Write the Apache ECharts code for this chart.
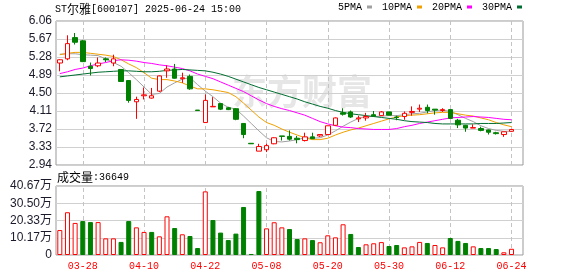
<!DOCTYPE html>
<html><head><meta charset="utf-8">
<script src="https://cdn.jsdelivr.net/npm/echarts@6/dist/echarts.min.js"></script>
<style>html,body{margin:0;padding:0;background:#fff}#c{width:578px;height:276px}</style>
</head><body><div id="c"></div>
<script>
// ---- data ----
const dates = ['03-25','03-26','03-27','03-28','03-31','04-01','04-02','04-03','04-07','04-08',
  '04-09','04-10','04-11','04-14','04-15','04-16','04-17','04-18','04-21','04-22',
  '04-23','04-24','04-25','04-28','04-29','05-06','05-07','05-08','05-09','05-12',
  '05-13','05-14','05-15','05-16','05-19','05-20','05-21','05-22','05-23','05-26',
  '05-27','05-28','05-29','05-30','06-03','06-04','06-05','06-06','06-09','06-10',
  '06-11','06-12','06-13','06-16','06-17','06-18','06-19','06-20','06-23','06-24'];
const opens = [5.15,5.24,5.70,5.63,5.08,5.09,5.24,5.15,5.01,4.77,
  4.31,4.44,4.39,4.54,4.98,5.02,4.81,4.86,4.13,3.86,
  4.20,4.27,4.18,4.16,3.84,3.41,3.24,3.27,3.40,3.57,
  3.56,3.52,3.47,3.55,3.57,3.60,3.80,4.07,4.09,3.94,
  3.96,4.03,4.01,4.09,3.98,3.99,4.08,4.15,4.19,4.15,
  4.12,4.14,3.91,3.80,3.74,3.73,3.70,3.64,3.60,3.67];
const closes = [5.22,5.57,5.60,5.18,5.03,5.15,5.22,5.24,4.75,4.34,
  4.36,4.46,4.44,4.87,5.02,4.82,4.83,4.59,4.12,4.34,
  4.21,4.15,4.14,3.93,3.60,3.40,3.34,3.36,3.53,3.56,
  3.50,3.49,3.55,3.51,3.60,3.79,3.96,4.04,3.98,3.96,
  3.99,4.00,4.09,4.02,3.97,4.06,4.10,4.17,4.12,4.13,
  4.14,3.95,3.81,3.74,3.75,3.69,3.65,3.62,3.66,3.71];
const lows = [4.97,5.21,5.55,5.17,4.88,5.06,5.17,5.08,4.75,4.29,
  3.94,4.36,4.38,4.52,4.83,4.81,4.72,4.57,4.12,3.86,
  4.20,4.13,4.13,3.91,3.52,3.40,3.24,3.22,3.39,3.47,
  3.47,3.41,3.45,3.50,3.55,3.60,3.79,4.01,3.96,3.87,
  3.90,3.99,4.00,4.02,3.91,3.92,4.01,4.09,4.06,4.03,
  4.09,3.94,3.74,3.66,3.74,3.67,3.60,3.60,3.55,3.66];
const highs = [5.23,5.75,5.80,5.65,5.16,5.27,5.27,5.33,5.02,4.78,
  4.42,4.62,4.61,4.88,5.10,5.13,4.94,4.90,4.13,4.47,
  4.41,4.28,4.20,4.17,3.85,3.41,3.40,3.40,3.54,3.57,
  3.69,3.57,3.64,3.64,3.61,3.79,3.97,4.17,4.12,4.01,
  4.07,4.11,4.11,4.09,4.01,4.10,4.21,4.25,4.25,4.15,
  4.17,4.15,3.94,3.81,3.82,3.77,3.71,3.66,3.66,3.72];
const volumes = [147000,252000,189000,200000,194000,194000,98000,98000,77000,200000,
  163000,136000,136000,110000,228000,159000,122000,112000,41000,375000,
  206000,132000,88000,126000,283000,6000,377000,157000,193000,163000,
  153000,94000,98000,88000,75000,116000,104000,181000,124000,47000,
  63000,69000,76000,53000,59000,45000,51000,77000,71000,59000,
  45000,100000,83000,71000,51000,41000,41000,35000,16000,36649];
const ma5 = [5.34,5.35,5.35,5.33,5.32,5.31,5.24,5.16,5.08,4.94,
  4.79,4.63,4.47,4.49,4.63,4.72,4.80,4.83,4.68,4.54,
  4.42,4.28,4.19,4.15,4.00,3.84,3.68,3.53,3.45,3.44,
  3.46,3.49,3.53,3.52,3.53,3.59,3.68,3.78,3.87,3.95,
  3.99,3.99,4.00,4.01,4.01,4.03,4.05,4.06,4.09,4.12,
  4.13,4.10,4.03,3.95,3.88,3.79,3.73,3.69,3.67,3.67];
const ma10 = [5.33,5.36,5.38,5.38,5.36,5.34,5.32,5.29,5.22,5.13,
  5.05,4.94,4.82,4.79,4.79,4.76,4.72,4.65,4.59,4.59,
  4.57,4.54,4.51,4.42,4.28,4.13,3.98,3.86,3.80,3.72,
  3.65,3.59,3.53,3.49,3.49,3.52,3.59,3.65,3.70,3.74,
  3.79,3.84,3.89,3.94,3.98,4.01,4.02,4.03,4.05,4.07,
  4.08,4.08,4.05,4.02,4.00,3.96,3.92,3.86,3.81,3.77];
const ma20 = [4.92,4.96,5.01,5.04,5.09,5.13,5.16,5.20,5.22,5.21,
  5.19,5.16,5.14,5.11,5.09,5.06,5.03,4.98,4.91,4.86,
  4.81,4.74,4.67,4.60,4.53,4.44,4.35,4.27,4.21,4.16,
  4.12,4.07,4.02,3.95,3.88,3.83,3.79,3.76,3.75,3.73,
  3.72,3.71,3.71,3.71,3.73,3.77,3.80,3.84,3.87,3.90,
  3.93,3.96,3.97,3.98,3.99,3.98,3.97,3.95,3.93,3.92];
const ma30 = [4.85,4.87,4.89,4.91,4.93,4.95,4.96,4.97,4.98,4.98,
  4.97,4.96,4.96,4.97,4.99,5.00,5.01,5.00,4.99,4.98,
  4.95,4.91,4.86,4.80,4.74,4.68,4.62,4.57,4.52,4.47,
  4.42,4.37,4.31,4.26,4.21,4.17,4.12,4.08,4.05,4.03,
  4.01,3.99,3.97,3.95,3.93,3.90,3.88,3.87,3.86,3.84,
  3.83,3.83,3.83,3.83,3.83,3.84,3.84,3.84,3.85,3.86];
const priceMin = 2.94, priceMax = 6.06, priceStep = 0.39;
const volMax = 406680, volStep = 101670;
const maNames = ['5PMA','10PMA','20PMA','30PMA'];
const maColors = ['#a0a0a0','#f0a000','#ff00ff','#006d30'];
const titleCode = '600107', titleName = 'ST尔雅', titleTime = '2025-06-24 15:00';

// ---- chart ----
const cats = dates.concat(['']);
const kData = dates.map((d, i) => [opens[i], closes[i], lows[i], highs[i]]);
const volData = volumes.map((v, i) => {
  const up = i === 0 || closes[i] >= closes[i - 1];
  return { value: v, itemStyle: up
    ? { color: '#ffffff', borderColor: '#ff0000', borderWidth: 1 }
    : { color: '#008000', borderColor: '#008000', borderWidth: 1 } };
});
const labelIv = (idx) => idx >= 3 && idx < dates.length && (idx - 3) % 8 === 0;
const mono = 'Liberation Mono';
const cjk = 'Noto Sans CJK SC';
const gridLineColor = '#d0d0d0';
const vLines = {
  silent: true, z: 1, symbol: ['none', 'none'], label: { show: false },
  lineStyle: { color: '#c4c4c4', type: [4, 3], width: 1 }, emphasis: { disabled: true },
  data: dates.filter((d, i) => labelIv(i)).map(d => ({ xAxis: d }))
};

const chart = echarts.init(document.getElementById('c'), null, { renderer: 'canvas' });
const xCommon = {
  type: 'category', data: cats, boundaryGap: true,
  axisLine: { show: false }, axisTick: { show: false }, splitLine: { show: false }
};
const maSeries = [ma5, ma10, ma20, ma30].map((d, k) => ({
  name: maNames[k], type: 'line', data: d, xAxisIndex: 0, yAxisIndex: 0,
  symbol: 'none', smooth: false, color: maColors[k],
  lineStyle: { width: 1, color: maColors[k] }, itemStyle: { color: maColors[k] }, z: 3
}));
chart.setOption({
  animation: false,
  backgroundColor: '#ffffff',
  grid: [
    { left: 56, top: 21, width: 467, height: 144, show: true, borderColor: '#999999', borderWidth: 1, backgroundColor: 'transparent' },
    { left: 56, top: 186, width: 467, height: 69, show: true, borderColor: '#999999', borderWidth: 1, backgroundColor: 'transparent' }
  ],
  legend: {
    data: maNames, left: 338, top: 2, align: 'right', icon: 'rect',
    itemWidth: 5, itemHeight: 3, itemGap: 10, selectedMode: false, padding: 0,
    textStyle: { fontFamily: mono, fontSize: 10, color: '#000' }
  },
  xAxis: [
    Object.assign({ gridIndex: 0, axisLabel: { show: false } }, xCommon),
    Object.assign({ gridIndex: 1, axisLabel: { show: true, interval: labelIv, color: '#ff0000',
      fontFamily: mono, fontSize: 10, margin: 6 } }, xCommon)
  ],
  yAxis: [
    { type: 'value', gridIndex: 0, min: priceMin, max: priceMax, interval: priceStep, scale: true,
      axisLine: { show: false }, axisTick: { show: false },
      axisLabel: { formatter: v => v.toFixed(2), color: '#1a1a2a', fontSize: 12, fontFamily: 'Liberation Sans', margin: 4 },
      splitLine: { show: true, lineStyle: { color: gridLineColor, width: 1 } } },
    { type: 'value', gridIndex: 1, min: 0, max: volMax, interval: volStep,
      axisLine: { show: false }, axisTick: { show: false },
      axisLabel: { formatter: v => v === 0 ? '0' : (v / 10000).toFixed(2) + '万', color: '#1a1a2a', fontSize: 12, fontFamily: 'Liberation Sans, ' + cjk, margin: 4 },
      splitLine: { show: true, lineStyle: { color: gridLineColor, width: 1 } } }
  ],
  graphic: [
    { type: 'text', left: 232, top: 74, z: 0, silent: true,
      style: { text: '东方财富', fill: '#e6e6e6', font: 'bold 35px "' + cjk + '"' } },
    { type: 'text', left: 55, top: 3, style: {
      text: '{a|' + titleName.slice(0, 2) + '}{b|' + titleName.slice(2) + '}{a|[' + titleCode + '] ' + titleTime + '}',
      rich: { a: { fontFamily: mono, fontSize: 10, fill: '#000' }, b: { fontFamily: cjk, fontSize: 12, fill: '#000' } } } },
    { type: 'text', left: 57, top: 171, style: {
      text: '{b|成交量}{a|:' + volumes[volumes.length - 1] + '}',
      rich: { a: { fontFamily: mono, fontSize: 10, fill: '#000' }, b: { fontFamily: cjk, fontSize: 12, fill: '#000' } } } }
  ],
  series: [
    { type: 'candlestick', name: 'K', data: kData, xAxisIndex: 0, yAxisIndex: 0, barWidth: 5, z: 4,
      itemStyle: { color: '#ffffff', color0: '#008000', borderColor: '#ff0000', borderColor0: '#008000', borderWidth: 1 },
      markLine: vLines },
    ...maSeries,
    { type: 'bar', name: 'VOL', data: volData, xAxisIndex: 1, yAxisIndex: 1, barWidth: 5, z: 4,
      markLine: vLines }
  ]
});
</script></body></html>
